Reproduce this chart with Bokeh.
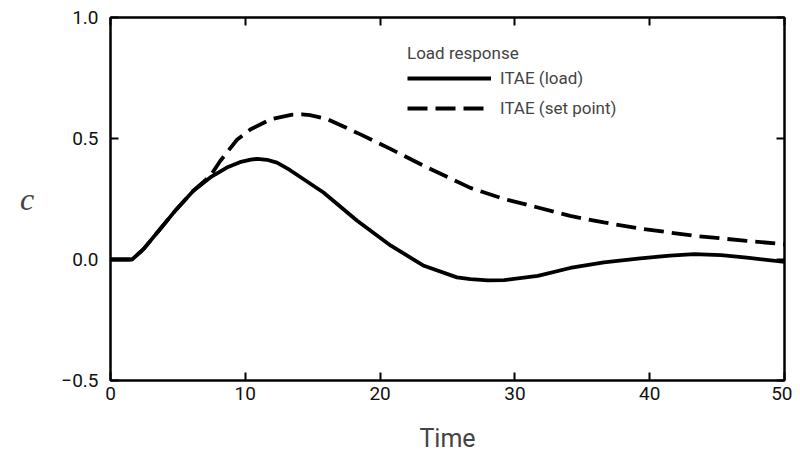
from bokeh.plotting import figure
from bokeh.models import (Range1d, FixedTicker, LinearAxis, Legend, LegendItem)
from bokeh.embed import file_html
from bokeh.resources import INLINE

# ---- data ----
t_load = [0, 1.6, 2.45, 3.67, 4.9, 6.15, 7.4, 8.63, 9.6, 10.4, 10.9, 11.6, 12.35,
          13.3, 15.8, 18.3, 20.8, 23.25, 25.7, 26.7, 28.0, 29.2, 31.7, 34.1,
          36.6, 39.3, 41.5, 43.3, 45.3, 47.2, 50]
c_load = [0, 0, 0.043, 0.125, 0.208, 0.284, 0.339, 0.38, 0.402, 0.413, 0.416, 0.412, 0.40,
          0.37, 0.277, 0.16, 0.057, -0.026, -0.074, -0.081, -0.086, -0.085, -0.068, -0.035,
          -0.012, 0.005, 0.016, 0.022, 0.018, 0.008, -0.01]

t_sp = [0, 1.6, 2.45, 3.67, 4.9, 6.15, 7.4, 8.14, 9.4, 10.4, 11.9, 13.4, 14.2, 14.8,
        16.1, 18.5, 20.8, 23.25, 26.7, 29.2, 31.7, 34.1, 36.6, 39.3, 43.3, 47.2, 50]
c_sp = [0, 0, 0.043, 0.125, 0.208, 0.284, 0.345, 0.407, 0.496, 0.538, 0.58, 0.598, 0.60, 0.597,
        0.58, 0.518, 0.456, 0.387, 0.296, 0.25, 0.215, 0.18, 0.153, 0.128, 0.098, 0.077, 0.063]

x_ticks = [0, 10, 20, 30, 40, 50]
y_ticks = [-0.5, 0.0, 0.5, 1.0]
y_tick_labels = ["\u22120.5", "0.0", "0.5", "1.0"]
x_label = "Time"
y_label = "c"
legend_title = "Load response"
series_names = ["ITAE (load)", "ITAE (set point)"]

FONT = "Roboto"

p = figure(frame_width=674, frame_height=363, output_backend="svg", toolbar_location=None,
           x_range=Range1d(0, 50), y_range=Range1d(-0.5, 1.0),
           x_axis_location=None, y_axis_location=None,
           min_border_left=110, min_border_right=8, min_border_top=17, min_border_bottom=72)
p.grid.visible = False
p.outline_line_color = "black"
p.outline_line_width = 2
p.background_fill_color = "white"
p.border_fill_color = "white"

def make_axis(ticks, labels_on, overrides=None):
    ax = LinearAxis(ticker=FixedTicker(ticks=ticks))
    ax.major_tick_in = 8
    ax.major_tick_out = 0
    ax.minor_tick_line_color = None
    ax.major_tick_line_width = 2
    ax.axis_line_width = 2
    ax.axis_line_color = "black"
    ax.major_tick_line_color = "black"
    if labels_on:
        ax.major_label_text_font = FONT
        ax.major_label_text_font_size = "19px"
        ax.major_label_text_color = "#111111"
        if overrides:
            ax.major_label_overrides = overrides
    else:
        ax.major_label_text_font_size = "0px"
        ax.major_label_standoff = 0
        ax.major_label_text_alpha = 0
    return ax

xb = make_axis(x_ticks, True)
xb.major_label_standoff = 6
xb.axis_label = x_label
xb.axis_label_text_font = FONT
xb.axis_label_text_font_size = "25px"
xb.axis_label_text_font_style = "normal"
xb.axis_label_standoff = 21
p.add_layout(xb, "below")

yl = make_axis(y_ticks, True, {v: s for v, s in zip(y_ticks, y_tick_labels)})
yl.major_label_standoff = 12
yl.axis_label = y_label
yl.axis_label_text_font = "Liberation Serif"
yl.axis_label_text_font_style = "italic"
yl.axis_label_text_font_size = "32px"
yl.axis_label_orientation = "horizontal"
yl.axis_label_standoff = 24
p.add_layout(yl, "left")

xt = make_axis(x_ticks, False)
p.add_layout(xt, "above")
yr = make_axis(y_ticks, False)
p.add_layout(yr, "right")

r1 = p.line(t_load, c_load, line_color="black", line_width=3.8)
r2 = p.line(t_sp, c_sp, line_color="black", line_width=3.8, line_dash="20 8")

legend = Legend(items=[LegendItem(label=series_names[0], renderers=[r1]),
                       LegendItem(label=series_names[1], renderers=[r2])],
                location=(297, 259), title=legend_title)
legend.title_text_font = FONT
legend.title_text_font_size = "17px"
legend.title_text_font_style = "normal"
legend.title_standoff = 2
legend.label_text_font = FONT
legend.label_text_font_size = "17px"
legend.glyph_width = 84
legend.glyph_height = 26
legend.label_height = 26
legend.label_standoff = 9
legend.spacing = 4
legend.padding = 0
legend.margin = 0
legend.border_line_alpha = 0
legend.background_fill_alpha = 0
p.add_layout(legend, "center")

open("out.html", "w").write(file_html(p, INLINE))
